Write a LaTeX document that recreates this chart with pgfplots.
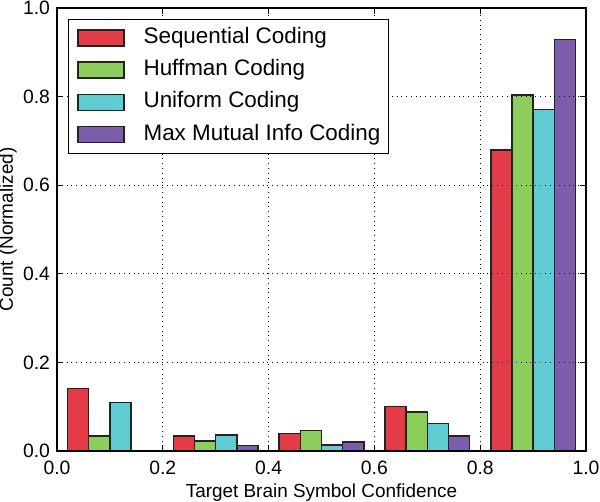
\documentclass[border=0pt]{standalone}
\usepackage{pgfplots}
\pgfplotsset{compat=1.18}
\usepackage{fontspec}
\setmainfont{Liberation Sans}
\definecolor{cred}{RGB}{227,60,70}
\definecolor{cgreen}{RGB}{141,205,91}
\definecolor{ccyan}{RGB}{94,204,210}
\definecolor{cpurple}{RGB}{123,93,171}
\definecolor{cedge}{RGB}{35,35,35}
\begin{document}
\begin{tikzpicture}
\useasboundingbox (-28.5bp,-25.5bp) rectangle (271.5bp,225.5bp);
\begin{axis}[
  scale only axis, width=264.5bp, height=221.5bp,
  xmin=0, xmax=1, ymin=0, ymax=1,
  xtick={0,0.2,0.4,0.6,0.8,1.0},
  ytick={0,0.2,0.4,0.6,0.8,1.0},
  xticklabels={0.0,0.2,0.4,0.6,0.8,1.0},
  yticklabels={0.0,0.2,0.4,0.6,0.8,1.0},
  tick align=inside, major tick length=3bp,
  grid=major, grid style={black, dotted, line width=0.5bp},
  axis on top,
  axis line style={line width=0.75bp},
  every tick/.style={black, line width=0.6bp},
  ticklabel style={font=\fontsize{9.7}{11}\selectfont},
  xticklabel style={yshift=-1.3bp},
  xlabel={Target Brain Symbol Confidence},
  ylabel={Count (Normalized)},
  label style={font=\fontsize{9.5}{11}\selectfont},
  xlabel style={at={(axis description cs:0.5,0)}, anchor=base, yshift=-23bp},
  ylabel style={at={(axis description cs:0,0.5)}, anchor=base, yshift=22bp},
  legend style={at={(0,1)}, anchor=north west, xshift=5.5bp, yshift=-5.5bp,
    draw=black, line width=0.5bp, fill=white,
    font=\fontsize{11.25}{13}\selectfont,
    inner xsep=4.3bp, inner ysep=4bp, row sep=5.6bp,
    nodes={inner xsep=0pt, inner ysep=0pt, text height=8bp, text depth=2.5bp},
    /tikz/every odd column/.style={column sep=9.5bp}},
  legend cell align=left,
  legend image code/.code={\draw[#1, draw=cedge, line width=0.75bp] (0bp,-4bp) rectangle (23bp,4bp);},
]
\addplot[ybar, bar width=0.04, bar shift=0pt, fill=cred, draw=cedge, line width=0.75bp]
  coordinates {(0.04,0.141) (0.24,0.034) (0.44,0.039) (0.64,0.100) (0.84,0.680)};
\addlegendentry{Sequential Coding}
\addplot[ybar, bar width=0.04, bar shift=0pt, fill=cgreen, draw=cedge, line width=0.75bp]
  coordinates {(0.08,0.034) (0.28,0.023) (0.48,0.046) (0.68,0.088) (0.88,0.804)};
\addlegendentry{Huffman Coding}
\addplot[ybar, bar width=0.04, bar shift=0pt, fill=ccyan, draw=cedge, line width=0.75bp]
  coordinates {(0.12,0.110) (0.32,0.036) (0.52,0.0135) (0.72,0.062) (0.92,0.771)};
\addlegendentry{Uniform Coding}
\addplot[ybar, bar width=0.04, bar shift=0pt, fill=cpurple, draw=cedge, line width=0.75bp]
  coordinates {(0.36,0.012) (0.56,0.020) (0.76,0.034) (0.96,0.929)};
\addlegendentry{Max Mutual Info Coding}
\end{axis}
\end{tikzpicture}
\end{document}
